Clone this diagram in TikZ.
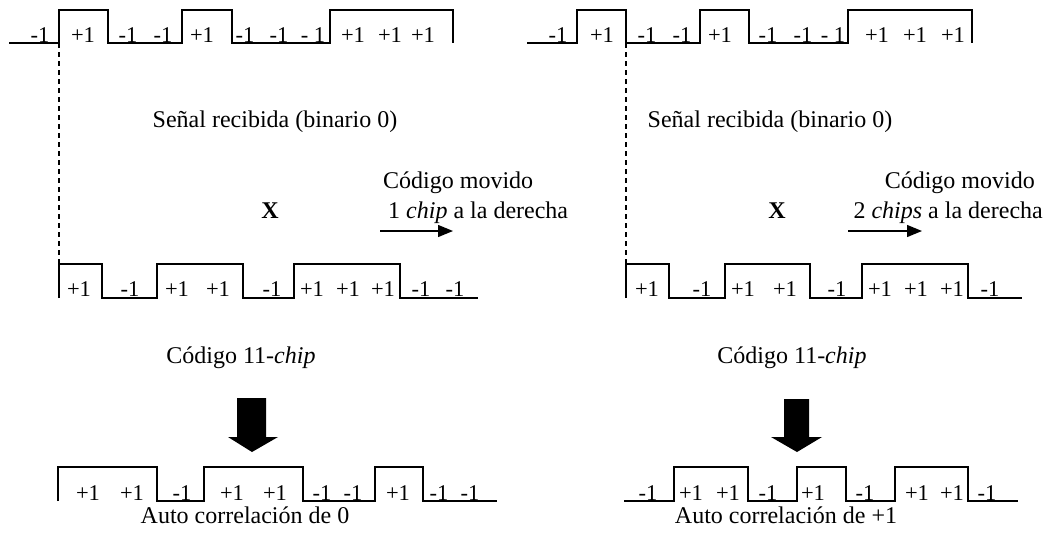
\documentclass[tikz,border=0pt]{standalone}
\usepackage{fontspec}
\setmainfont{Liberation Serif}
\usetikzlibrary{arrows.meta}
\begin{document}
\begin{tikzpicture}[x=1pt,y=-1pt,
  wave/.style={line width=1.5pt, line join=miter},
  dashline/.style={line width=1.3pt, dash pattern=on 5pt off 4pt},
  lbl/.style={anchor=base, inner sep=0pt, font=\fontsize{22.5}{26}\selectfont},
  txt/.style={anchor=base, inner sep=0pt, font=\fontsize{24}{28}\selectfont},
  thinarrow/.style={line width=1.3pt, -{Triangle[length=15pt,width=12pt]}},
  blockarrow/.style={fill=black, draw=none}]
\useasboundingbox (0,0) rectangle (1047,541);

% ---------- top-left received signal ----------
\draw[wave] (9,43) -- (59,43) -- (59,10) -- (108,10) -- (108,43) -- (182,43) -- (182,10)
  -- (232,10) -- (232,43) -- (330,43) -- (330,10) -- (453,10) -- (453,43);
\foreach \x/\t [count=\i] in {40/-1,83/+1,128/-1,163/-1,202/+1,245/-1,279/-1,313/{- 1},353/+1,390/+1,423/+1}
  \node[lbl] (tl\i) at (\x,42) {\t};

% ---------- lower-left code ----------
\draw[wave] (59,298) -- (59,264) -- (102,264) -- (102,298) -- (157,298) -- (157,264) -- (243,264)
  -- (243,298) -- (294,298) -- (294,264) -- (400,264) -- (400,298) -- (478,298);
\foreach \x/\t [count=\i] in {79/+1,130/-1,177/+1,218/+1,272/-1,312/+1,348/+1,383/+1,421/-1,455/-1}
  \node[lbl] (ml\i) at (\x,296) {\t};
\coordinate (dlA) at (59,43);
\coordinate (dlB) at (59,264);
\draw[dashline] (dlA) -- (dlB);

% ---------- top-right received signal ----------
\draw[wave] (527,43) -- (577,43) -- (577,10) -- (626,10) -- (626,43) -- (700,43) -- (700,10)
  -- (749,10) -- (749,43) -- (848,43) -- (848,10) -- (972,10) -- (972,43);
\foreach \x/\t [count=\i] in {558/-1,602/+1,647/-1,682/-1,720/+1,768/-1,803/-1,833/{- 1},877/+1,915/+1,953/+1}
  \node[lbl] (tr\i) at (\x,42) {\t};

% ---------- lower-right code ----------
\draw[wave] (626,298) -- (626,264) -- (669,264) -- (669,298) -- (725,298) -- (725,264) -- (810,264)
  -- (810,298) -- (862,298) -- (862,264) -- (968,264) -- (968,298) -- (1022,298);
\foreach \x/\t [count=\i] in {647/+1,702/-1,743/+1,785/+1,837/-1,880/+1,916/+1,952/+1,990/-1}
  \node[lbl] (mr\i) at (\x,296) {\t};
\coordinate (drA) at (626,43);
\coordinate (drB) at (626,264);
\draw[dashline] (drA) -- (drB);

% ---------- middle texts ----------
\node[txt] (senL) at (275,127) {Señal recibida (binario 0)};
\node[txt] (senR) at (770,127) {Señal recibida (binario 0)};
\node[txt, font=\fontsize{24}{28}\selectfont\bfseries] (xL) at (270,218) {X};
\node[txt, font=\fontsize{24}{28}\selectfont\bfseries] (xR) at (777,218) {X};
\node[txt, anchor=base west] (movL1) at (383,188) {Código movido};
\node[txt, anchor=base west] (movL2) at (388,218) {1 \textit{chip} a la derecha};
\node[txt, anchor=base east] (movR1) at (1035,188) {Código movido};
\node[txt, anchor=base east] (movR2) at (1043,218) {2 \textit{chips} a la derecha};
\coordinate (aLs) at (380,231);
\coordinate (aLe) at (453,231);
\coordinate (aRs) at (848,231);
\coordinate (aRe) at (922,231);
\draw[thinarrow] (aLs) -- (aLe);
\draw[thinarrow] (aRs) -- (aRe);

\node[txt] (codL) at (241,363) {Código 11-\textit{chip}};
\node[txt] (codR) at (792,363) {Código 11-\textit{chip}};

% ---------- block arrows ----------
\fill[blockarrow] (237,398) -- (266,398) -- (266,437) -- (278,437) -- (252,452) -- (228,437) -- (237,437) -- cycle;
\fill[blockarrow] (784,399) -- (809,399) -- (809,437) -- (822,437) -- (797,452) -- (771,437) -- (784,437) -- cycle;

% ---------- bottom-left result ----------
\draw[wave] (58,501) -- (58,467) -- (157,467) -- (157,501) -- (204,501) -- (204,467) -- (303,467)
  -- (303,501) -- (375,501) -- (375,467) -- (423,467) -- (423,501) -- (497,501);
\foreach \x/\t [count=\i] in {88/+1,132/+1,182/-1,232/+1,275/+1,322/-1,353/-1,398/+1,439/-1,470/-1}
  \node[lbl] (bl\i) at (\x,500) {\t};
\node[txt] (autoL) at (245,523) {Auto correlación de 0};

% ---------- bottom-right result ----------
\draw[wave] (624,501) -- (674,501) -- (674,467) -- (748,467) -- (748,501) -- (797,501) -- (797,467)
  -- (846,467) -- (846,501) -- (895,501) -- (895,467) -- (968,467) -- (968,501) -- (1018,501);
\foreach \x/\t [count=\i] in {648/-1,691/+1,728/+1,768/-1,813/+1,865/-1,917/+1,952/+1,987/-1}
  \node[lbl] (br\i) at (\x,500) {\t};
\node[txt] (autoR) at (786,523) {Auto correlación de +1};
\end{tikzpicture}
\end{document}
